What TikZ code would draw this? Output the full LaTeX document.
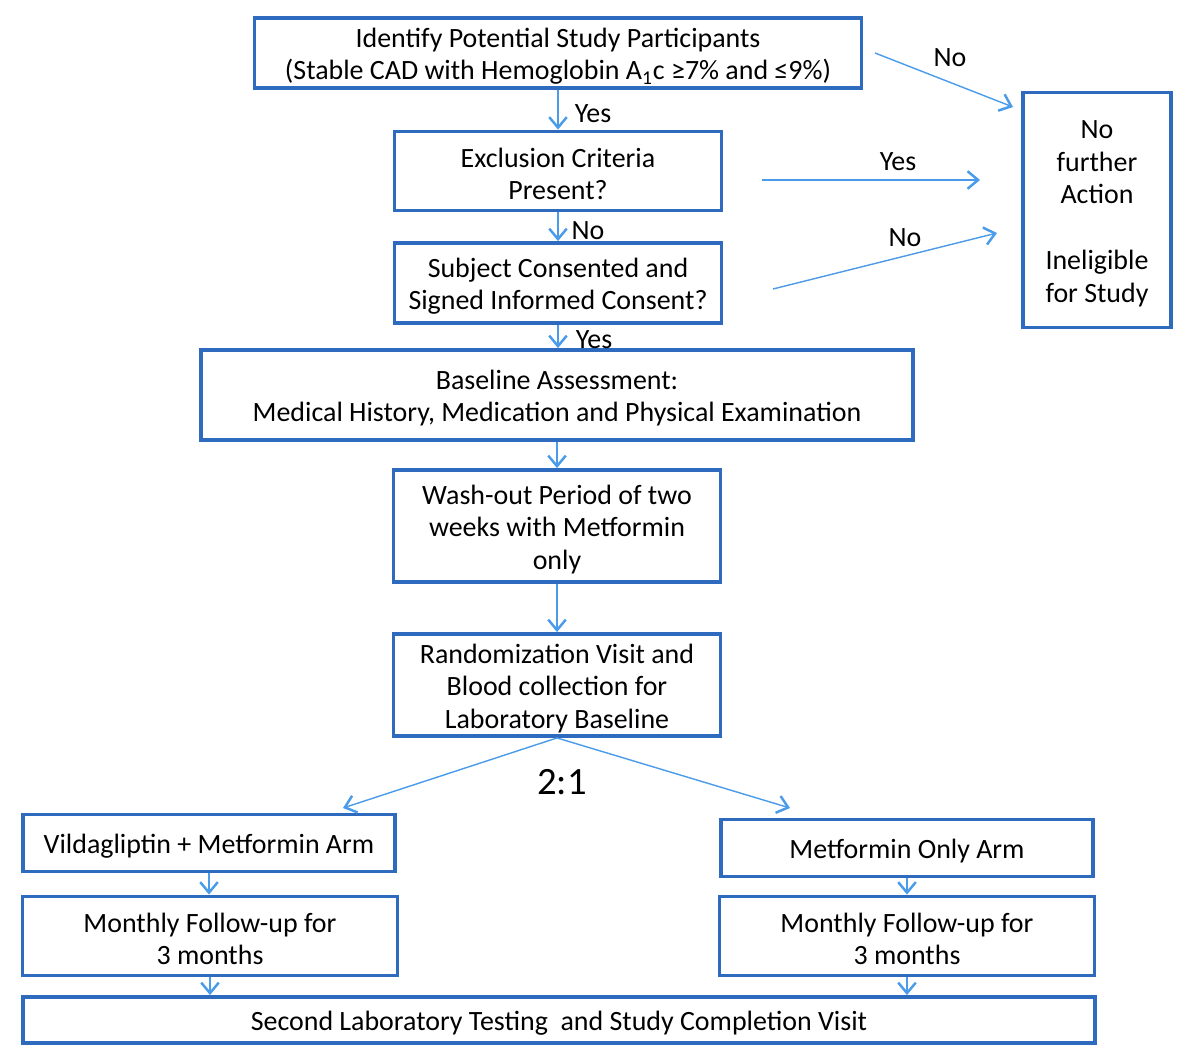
\documentclass[tikz,border=0pt]{standalone}
\usepackage{fontspec}
\setmainfont{Carlito}
\usepackage{xcolor}
\usetikzlibrary{arrows.meta}
\definecolor{boxblue}{HTML}{2E6BBF}
\definecolor{arrblue}{HTML}{4A9BEA}
\newcommand{\topstrut}{\rule{0pt}{14.6pt}}

\begin{document}
\begin{tikzpicture}[x=0.02cm,y=-0.02cm,
  box/.style={draw=boxblue,line width=2.2pt,align=center,inner sep=0pt,
    font=\fontsize{15.9}{18.5}\selectfont},
  size/.style 2 args={minimum width=#1*0.02cm,minimum height=#2*0.02cm},
  arr/.style={draw=arrblue,line width=0.8pt,
    -{Straight Barb[length=6pt,width=10pt,line width=1.4pt]}},
  lbl/.style={font=\fontsize{15.9}{18.5}\selectfont}]
  \useasboundingbox (0,0) rectangle (1200,1058);
  % main column
  \node[box,size={607}{70}] (id) at (558,53)
    {\topstrut Identify Potential Study Participants\\(Stable CAD with Hemoglobin A\textsubscript{1}c ≥7\% and ≤9\%)};
  \node[box,size={327}{79}] (excl) at (558,171) {\topstrut Exclusion Criteria\\Present?};
  \node[box,size={327}{80}] (cons) at (558,283) {\topstrut Subject Consented and\\Signed Informed Consent?};
  \node[box,size={148}{235}] (nfa) at (1097,210)
    {\topstrut No\\further\\Action\\[19pt]Ineligible\\for Study};
  \node[box,size={712}{90}] (base) at (557,395)
    {\topstrut Baseline Assessment:\\Medical History, Medication and Physical Examination};
  \node[box,size={327}{112}] (wash) at (557,526)
    {\topstrut Wash-out Period of two\\weeks with Metformin\\only};
  \node[box,size={327}{102}] (rand) at (557,685)
    {\topstrut Randomization Visit and\\Blood collection for\\Laboratory Baseline};
  % two arms
  \node[box,size={372}{57}] (vild) at (209,843) {\topstrut Vildagliptin + Metformin Arm};
  \node[box,size={372}{57}] (metf) at (907,848) {\topstrut Metformin Only Arm};
  \node[box,size={375}{79}] (fuL) at (210,936) {\topstrut Monthly Follow-up for\\3 months};
  \node[box,size={375}{79}] (fuR) at (907,936) {\topstrut Monthly Follow-up for\\3 months};
  \node[box,size={1072}{46}] (done) at (559,1020)
    {\topstrut Second Laboratory Testing\ \ and Study Completion Visit};
  % free ends
  \coordinate (noA) at (875,53);
  \coordinate (noB) at (1013,107);
  \coordinate (yesA) at (762,180);
  \coordinate (yesB) at (980,180);
  \coordinate (noC) at (773,289);
  \coordinate (noD) at (997,233);
  \coordinate (armL) at (343,808);
  \coordinate (armR) at (790,808);
  % connectors
  \draw[arr] (id.south) -- (id.south |- excl.north);
  \draw[arr] (excl.south) -- (excl.south |- cons.north);
  \draw[arr] (cons.south) -- (cons.south |- base.north);
  \draw[arr] (base.south) -- (wash.north);
  \draw[arr] (wash.south) -- (rand.north);
  \draw[arr] (rand.south) -- (armL);
  \draw[arr] (rand.south) -- (armR);
  \draw[arr] (vild.south) -- (vild.south |- fuL.north);
  \draw[arr] (metf.south) -- (metf.south |- fuR.north);
  \draw[arr] (fuL.south) -- (fuL.south |- done.north);
  \draw[arr] (fuR.south) -- (fuR.south |- done.north);
  \draw[arr] (noA) -- (noB);
  \draw[arr] (yesA) -- (yesB);
  \draw[arr] (noC) -- (noD);
  % labels
  \node[lbl] (l1) at (593,114) {Yes};
  \node[lbl] (l2) at (588,231) {No};
  \node[lbl] (l3) at (594,340) {Yes};
  \node[lbl] (l4) at (950,58) {No};
  \node[lbl] (l5) at (898,162) {Yes};
  \node[lbl] (l6) at (905,238) {No};
  \node[font=\fontsize{22}{26}\selectfont] (ratio) at (562,782) {2:1};
\end{tikzpicture}
\end{document}
